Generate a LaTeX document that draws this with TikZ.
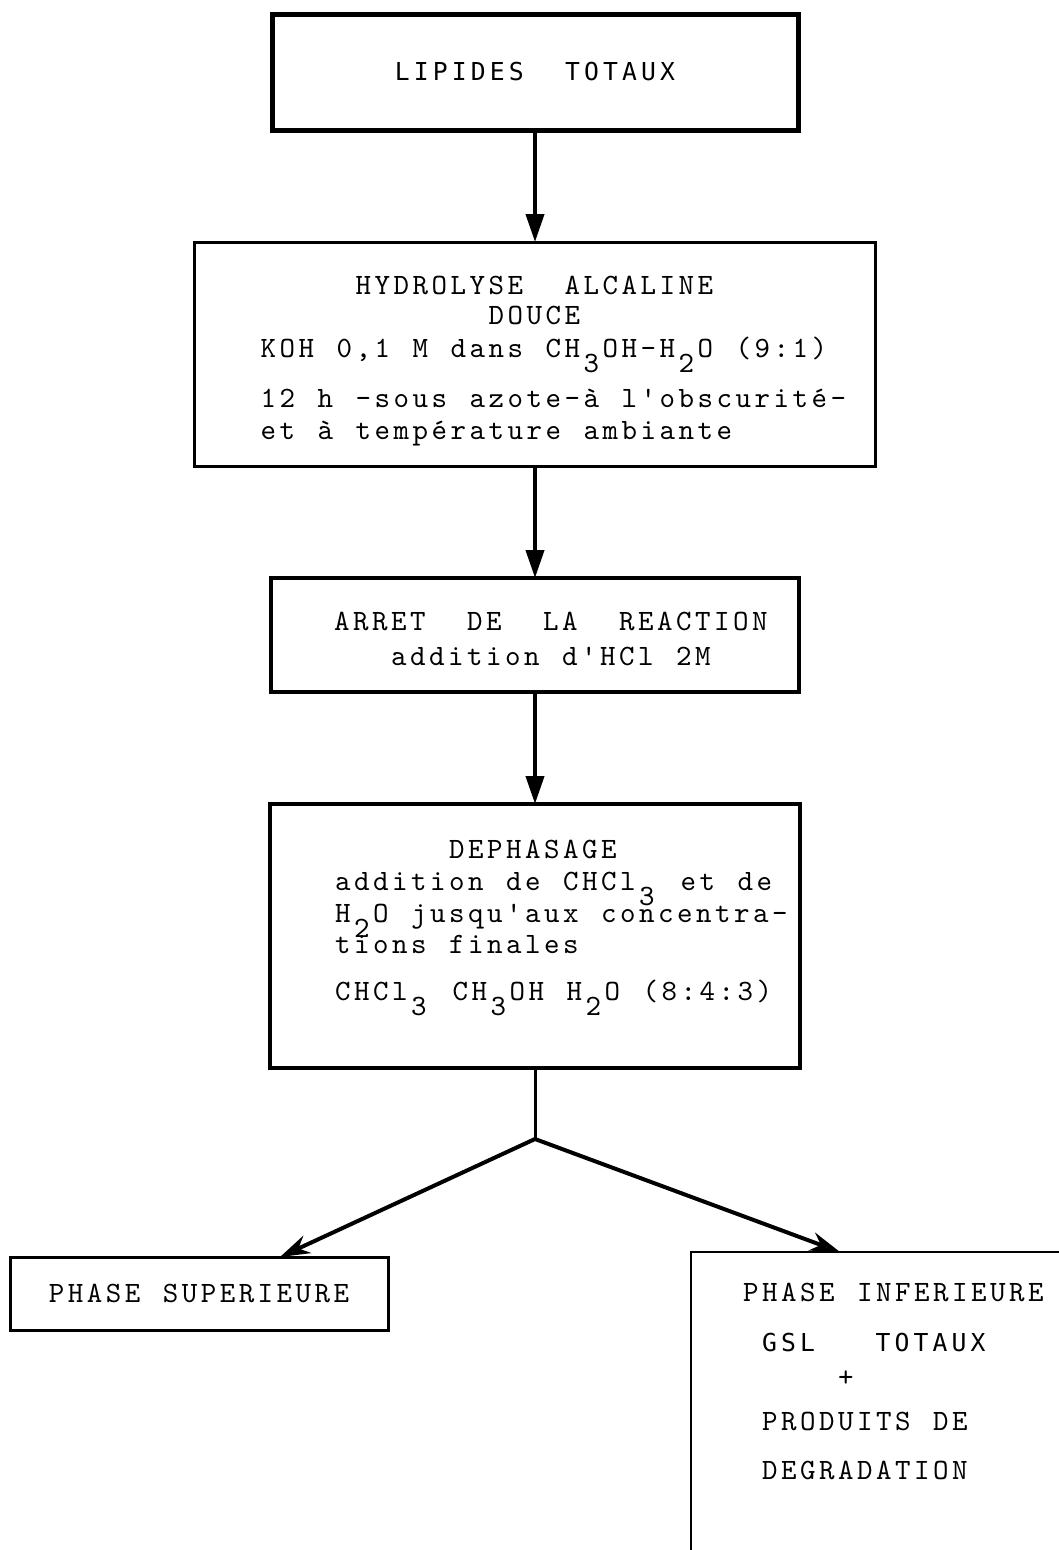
\documentclass[tikz,border=0pt]{standalone}
\usepackage{fontspec}
\usetikzlibrary{arrows.meta,positioning}
\newfontfamily\gothic{DejaVu Sans Mono}[LetterSpace=16.7]
\newfontfamily\typew{lmmono10-regular}[Extension=.otf,LetterSpace=11.9,Ligatures=TeXOff]
\newlength\pitch
\setlength\pitch{19pt}
\newlength\lsp
\setlength\lsp{3.51pt}
\newcommand\gap[1]{\hspace*{#1\pitch}}
\newcommand\wgap[1]{\hspace*{\dimexpr#1\pitch+\lsp\relax}}
\newcommand\lo[1]{\hspace*{\lsp}\smash{\raisebox{-15pt}{#1}}\hspace*{\lsp}}
\newcommand\gothsize{\gothic\fontsize{24.7pt}{32pt}\selectfont}
\newcommand\typesize{\typew\fontsize{29.5pt}{32pt}\selectfont
  \spaceskip=\dimexpr\pitch+\lsp\relax\xspaceskip=\spaceskip\relax}

\begin{document}
\begin{tikzpicture}[x=1pt,y=-1pt,>={Triangle[length=28pt,width=18pt]},
  node distance=112pt,
  box/.style={draw,line width=3pt,inner sep=0pt,outer sep=0pt,font=\typesize},
  txt/.style={inner sep=0pt,anchor=north west,align=left,font=\typesize},
  flow/.style={->,line width=4pt},
  branch/.style={-{Stealth[length=30pt,width=19pt,fill=gray!50]},line width=4pt}]

  \useasboundingbox (0,0) rectangle (1059,1550);

  % Etapes
  \node[box,line width=5pt,minimum width=526pt,minimum height=116pt,
    font=\gothsize] (lipides) at (535,72) {LIPIDES\wgap{2}TOTAUX};
  \node[box,minimum width=681pt,minimum height=224pt,below=of lipides] (hydro) {};
  \node[box,line width=3.5pt,minimum width=528pt,minimum height=114pt,below=of hydro] (arret) {};
  \node[box,line width=3.5pt,minimum width=530pt,minimum height=264pt,below=of arret] (dephas) {};

  % Textes des etapes
  \node[txt] (hydrot) at ([xshift=66pt,yshift=-34pt]hydro.north west)
    {\gap{5}HYDROLYSE\wgap{2}ALCALINE\\[-2pt]
     \gap{12}DOUCE\\[1pt]
     KOH 0,1 M dans CH\lo{3}OH-H\lo{2}O (9:1)\\[18pt]
     12 h -sous azote-à l'obscurité-\\
     et à température ambiante};
  \node[txt] (arrett) at ([xshift=63pt,yshift=-34pt]arret.north west)
    {ARRET\wgap{2}DE\wgap{2}LA\wgap{2}REACTION\\[3pt]
     \gap{3}addition d'HCl 2M};
  \node[txt] (dephast) at ([xshift=65pt,yshift=-36pt]dephas.north west)
    {\gap{6}DEPHASAGE\\
     addition de CHCl\lo{3} et de\\
     H\lo{2}O jusqu'aux concentra-\\[-1pt]
     tions finales\\[15pt]
     CHCl\lo{3} CH\lo{3}OH H\lo{2}O (8:4:3)};

  % Phases
  \coordinate[below=71pt of dephas] (fork);
  \node[box,minimum width=378pt,minimum height=73pt] (sup) at (199,1293.5) {PHASE SUPERIEURE};
  \node[box,line width=2.5pt,anchor=north west,minimum width=450pt,minimum height=400pt] (inf) at (691,1252) {};
  \node[txt] (inft) at (743,1283)
    {PHASE INFERIEURE\\[18pt]
     \gap{1}{\gothsize GSL\wgap{3}TOTAUX}\\[3pt]
     \gap{5}+\\[12pt]
     \gap{1}PRODUITS DE\\[17pt]
     \gap{1}DEGRADATION};
  \coordinate (supin) at ([xshift=270pt]sup.north west);
  \coordinate (infin) at ([xshift=149pt]inf.north west);

  % Fleches
  \draw[flow] (lipides) -- (hydro);
  \draw[flow] (hydro) -- (arret);
  \draw[flow] (arret) -- (dephas);
  \draw[line width=3pt] (dephas) -- (fork);
  \draw[branch] (fork) -- (supin);
  \draw[branch] (fork) -- (infin);

\end{tikzpicture}
\end{document}
